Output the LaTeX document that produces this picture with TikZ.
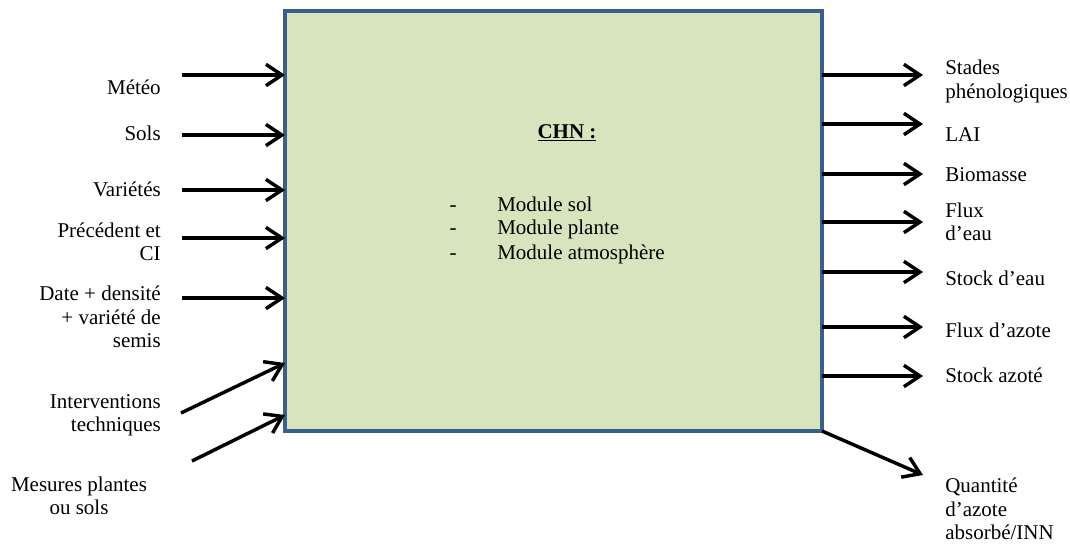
\documentclass[tikz,border=0pt]{standalone}
\usepackage{fontspec}
\setmainfont{Liberation Serif}
\usetikzlibrary{arrows.meta,positioning,calc}
\definecolor{chnblue}{HTML}{3A5F8B}
\definecolor{chngreen}{HTML}{D7E4BD}

\begin{document}
\begin{tikzpicture}[x=0.75pt,y=-0.75pt,
			chnbox/.style={draw=chnblue,line width=3pt,fill=chngreen,minimum width=402.75pt,minimum height=315pt,inner sep=0pt,outer sep=0pt},
			lbl/.style={inner sep=0pt,font=\fontsize{15.75}{17.5}\selectfont},
			inlbl/.style={lbl,anchor=east,align=right},
			outlbl/.style={lbl,anchor=west,align=left},
			arr/.style={-{Straight Barb[length=12pt,width=16pt,line width=2.6pt]},line width=2.6pt,black}
			]
			\useasboundingbox (0,0) rectangle (1070,543);
			% le modele
			\node[chnbox] (chn) at (553.5,221) {};
			\node[lbl,font=\fontsize{15.75}{17.5}\selectfont\bfseries] (titre) at (567,133) {\underline{CHN :}};
			\node[lbl,anchor=west] (m1) at (497,204) {Module sol};
			\node[lbl,anchor=west] (m2) at (497,229) {Module plante};
			\node[lbl,anchor=west] (m3) at (497,254) {Module atmosphère};
			\node[lbl,base left=30pt of m1] (d1) {-};
			\node[lbl,base left=30pt of m2] (d2) {-};
			\node[lbl,base left=30pt of m3] (d3) {-};
			% entrees
			\node[inlbl] (meteo) at (161,87) {Météo};
			\node[inlbl] (sols) at (161,133) {Sols};
			\node[inlbl] (varietes) at (161,189) {Variétés};
			\node[inlbl] (precedent) at (161,242) {Précédent et\\CI};
			\node[inlbl] (semis) at (161,317) {Date + densité\\+ variété de\\semis};
			\node[inlbl] (interv) at (161,415) {Interventions\\techniques};
			\node[lbl,align=center] (mesures) at (79,496) {Mesures plantes\\ou sols};
			\coordinate (aMeteo) at (182,75);
			\coordinate (aSols) at (182,135);
			\coordinate (aVarietes) at (182,190);
			\coordinate (aPrecedent) at (182,238);
			\coordinate (aSemis) at (182,298);
			\coordinate (aInterv) at (181,413);
			\coordinate (aMesures) at (192,461);
			\draw[arr] (aMeteo) -- (aMeteo -| chn.west);
			\draw[arr] (aSols) -- (aSols -| chn.west);
			\draw[arr] (aVarietes) -- (aVarietes -| chn.west);
			\draw[arr] (aPrecedent) -- (aPrecedent -| chn.west);
			\draw[arr] (aSemis) -- (aSemis -| chn.west);
			\draw[arr] (aInterv) -- ($(chn.south west)+(0,-68)$);
			\draw[arr] (aMesures) -- ($(chn.south west)+(0,-16)$);
			% sorties
			\node[outlbl] (stades) at (945,81.5) {Stades\\phénologiques};
			\node[outlbl] (lai) at (945,135) {LAI};
			\node[outlbl] (biomasse) at (945,175) {Biomasse};
			\node[outlbl] (fluxeau) at (945,221.5) {Flux\\d’eau};
			\node[outlbl] (stockeau) at (945,278) {Stock d’eau};
			\node[outlbl] (fluxazote) at (945,330) {Flux d’azote};
			\node[outlbl] (stockazote) at (945,375) {Stock azoté};
			\node[outlbl] (quantite) at (945,509) {Quantité\\d’azote\\absorbé/INN};
			\coordinate (bStades) at (923,75);
			\coordinate (bLai) at (923,124);
			\coordinate (bBiomasse) at (923,174);
			\coordinate (bFluxeau) at (923,222);
			\coordinate (bStockeau) at (923,272);
			\coordinate (bFluxazote) at (923,327);
			\coordinate (bStockazote) at (923,376);
			\coordinate (bQuantite) at (923,475);
			\draw[arr] (bStades -| chn.east) -- (bStades);
			\draw[arr] (bLai -| chn.east) -- (bLai);
			\draw[arr] (bBiomasse -| chn.east) -- (bBiomasse);
			\draw[arr] (bFluxeau -| chn.east) -- (bFluxeau);
			\draw[arr] (bStockeau -| chn.east) -- (bStockeau);
			\draw[arr] (bFluxazote -| chn.east) -- (bFluxazote);
			\draw[arr] (bStockazote -| chn.east) -- (bStockazote);
			\draw[arr] (chn.south east) -- (bQuantite);
		\end{tikzpicture}
\end{document}
